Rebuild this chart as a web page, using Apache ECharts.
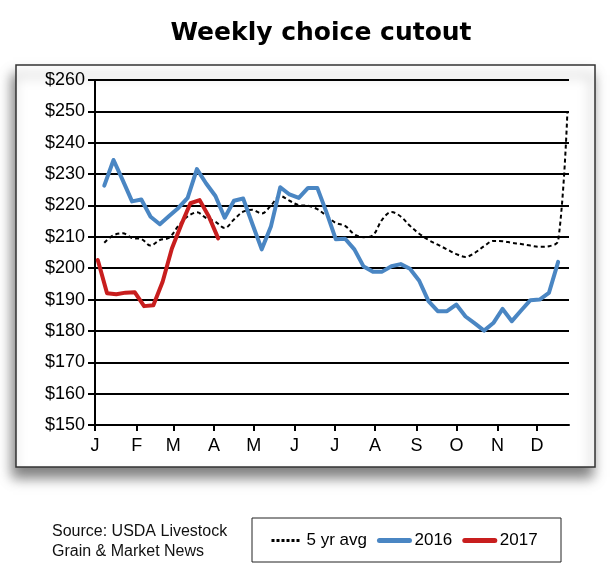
<!DOCTYPE html>
<html>
<head>
<meta charset="utf-8">
<script src="https://cdn.jsdelivr.net/npm/echarts@6/dist/echarts.min.js"></script>
<style>
html,body{margin:0;padding:0;background:#fff;}
#chart{width:610px;height:577px;}
</style>
</head>
<body>
<div id="chart"></div>
<script>
// ---- data ----
var titleText = 'Weekly choice cutout';
var sourceLines = ['Source: USDA Livestock', 'Grain & Market News'];
var seriesNames = ['5 yr avg', '2016', '2017'];
var monthLabels = ['J','F','M','A','M','J','J','A','S','O','N','D'];
// month start positions, in weeks from Jan 1
var monthTicks = [0, 4.5, 8.45, 12.84, 17.15, 21.54, 25.89, 30.24, 34.7, 39.02, 43.44, 47.71];
var yTicks = [150, 160, 170, 180, 190, 200, 210, 220, 230, 240, 250, 260];

// 5-year average, weeks 1..51
var avg5 = [208.1, 210.5, 211.1, 209.6, 209.3, 207.2, 209.0, 209.7, 213.5, 216.5,
            217.8, 216.0, 214.8, 212.8, 215.5, 218.0, 218.6, 217.4, 220.0, 223.0,
            221.5, 220.1, 219.9, 218.8, 216.7, 214.4, 213.5, 210.8, 209.9, 210.5,
            215.5, 217.9, 216.5, 213.5, 211.0, 209.0, 207.5, 206.0, 204.5, 203.6,
            204.9, 207.0, 208.7, 208.6, 208.1, 207.7, 207.2, 206.8, 207.0, 208.7,
            250.0];
// 2016, weeks 1..50
var y2016 = [226.3, 234.5, 228.0, 221.3, 221.9, 216.4, 214.0, 216.6, 219.2, 222.4,
             231.6, 227.0, 223.0, 216.1, 221.5, 222.2, 214.0, 206.0, 213.4, 225.8,
             223.5, 222.4, 225.6, 225.6, 217.7, 209.2, 209.4, 206.0, 200.5, 198.9,
             198.9, 200.6, 201.3, 199.8, 196.0, 189.5, 186.3, 186.3, 188.4, 184.6,
             182.4, 180.1, 182.5, 187.0, 183.1, 186.5, 189.8, 190.0, 192.1, 202.0];
// 2017, first 14 weeks
var y2017 = [202.6, 192.0, 191.7, 192.2, 192.3, 187.9, 188.2, 195.7, 206.3, 213.8,
             220.7, 221.7, 216.4, 209.5];
var start2016 = 1, start2017 = 0.3, startAvg = 1;

function toPairs(arr, start) {
  return arr.map(function (v, i) { return [start + i, v]; });
}

var colAvg = '#000', col2016 = '#4a86c3', col2017 = '#c81e1e';

var chart = echarts.init(document.getElementById('chart'), null, {renderer: 'canvas'});

var option = {
  backgroundColor: '#fff',
  animation: false,
  title: {
    text: titleText,
    left: 316, top: 16, textAlign: 'center',
    textStyle: {fontFamily: 'DejaVu Sans', fontWeight: 'bold', fontSize: 25, color: '#000'}
  },
  graphic: [
    {
      type: 'rect', z: -10,
      shape: {x: 16, y: 65, width: 579, height: 402},
      style: {fill: '#fff', stroke: '#333', lineWidth: 1.5,
              shadowBlur: 12, shadowOffsetX: -3, shadowOffsetY: 10, shadowColor: 'rgba(0,0,0,0.5)'}
    },
    {
      type: 'rect', z: -10,
      shape: {x: 252, y: 518, width: 309, height: 44},
      style: {fill: '#fff', stroke: '#222', lineWidth: 1}
    },
    {
      type: 'text', left: 52, top: 522,
      style: {text: sourceLines.join('\n'), fontFamily: 'Liberation Sans', fontSize: 16,
              lineHeight: 20, fill: '#111'}
    }
  ],
  legend: {
    left: 270, top: 532, padding: 0,
    itemWidth: 30, itemHeight: 6, itemGap: 10,
    itemStyle: {opacity: 0},
    data: [
      {name: seriesNames[0], lineStyle: {type: [3, 2], width: 3, color: colAvg}},
      {name: seriesNames[1], lineStyle: {width: 5, color: col2016}},
      {name: seriesNames[2], lineStyle: {width: 5, color: col2017}}
    ],
    textStyle: {fontFamily: 'Liberation Sans', fontSize: 17, color: '#000'}
  },
  grid: {left: 95, right: 41, top: 80, bottom: 152, containLabel: false},
  xAxis: {
    type: 'value', min: 0, max: 51.17,
    axisLine: {show: true, lineStyle: {color: '#000', width: 2}},
    axisTick: {show: true, length: 6, lineStyle: {color: '#000', width: 2}, customValues: monthTicks},
    axisLabel: {
      customValues: monthTicks, margin: 12,
      fontFamily: 'Liberation Sans', fontSize: 18, color: '#000',
      formatter: function (v) {
        var idx = monthTicks.indexOf(v);
        return idx >= 0 ? monthLabels[idx] : '';
      }
    },
    splitLine: {show: false}
  },
  yAxis: {
    type: 'value', min: yTicks[0], max: yTicks[yTicks.length - 1], interval: 10,
    axisLine: {show: true, lineStyle: {color: '#000', width: 2}},
    axisTick: {show: true, length: 7, lineStyle: {color: '#000', width: 2}},
    axisLabel: {fontFamily: 'Liberation Sans', fontSize: 18, color: '#000', margin: 10,
                formatter: function (v) { return '$' + v; }},
    splitLine: {show: true, lineStyle: {color: '#000', width: 2}}
  },
  series: [
    {
      name: seriesNames[0], type: 'line', data: toPairs(avg5, startAvg),
      showSymbol: false, symbol: 'none', smooth: 0.35, z: 3,
      lineStyle: {color: colAvg, width: 2, type: [4, 3]},
      itemStyle: {color: colAvg}
    },
    {
      name: seriesNames[1], type: 'line', data: toPairs(y2016, start2016),
      showSymbol: false, symbol: 'none', z: 4,
      lineStyle: {color: col2016, width: 4, join: 'round', cap: 'round'},
      itemStyle: {color: col2016}
    },
    {
      name: seriesNames[2], type: 'line', data: toPairs(y2017, start2017),
      showSymbol: false, symbol: 'none', z: 5,
      lineStyle: {color: col2017, width: 4, join: 'round', cap: 'round'},
      itemStyle: {color: col2017}
    }
  ]
};
chart.setOption(option);
</script>
</body>
</html>
